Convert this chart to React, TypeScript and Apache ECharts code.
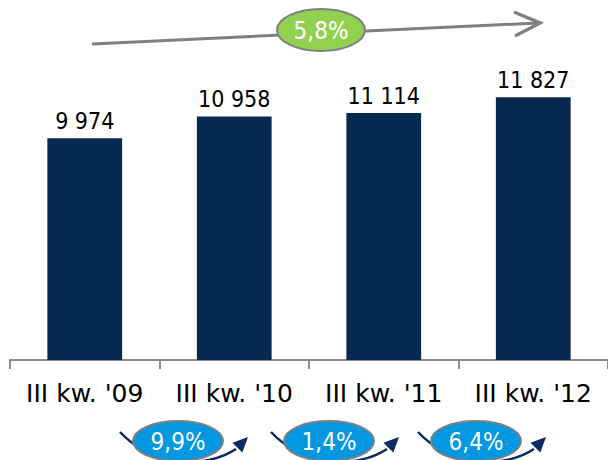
import React, { useEffect, useRef } from "react";
import * as echarts from "echarts";

// Quarterly values (III quarter of each year)
const categories = ["III kw. '09", "III kw. '10", "III kw. '11", "III kw. '12"];
const values = [9974, 10958, 11114, 11827];
// Year-on-year growth between neighbouring quarters
const yoyGrowth = ["9,9%", "1,4%", "6,4%"];
// Average annual growth over the whole period
const cagrLabel = "5,8%";

const BAR_COLOR = "#07284f";
const ARROW_NAVY = "#0a2a62";
const BLUE = "#0398df";
const GREEN = "#92d050";
const GREY = "#808080";

const fmt = (v: number) =>
  String(v).replace(/\B(?=(\d{3})+(?!\d))/g, " ");

const COND = "DejaVu Sans Condensed, DejaVu Sans, sans-serif";

function growthBubble(cx: number, label: string) {
  const cy = 441;
  const sx = cx - 58;
  const tip = [cx + 70, 437];
  const end = [cx + 58, 449];
  const dx = tip[0] - end[0];
  const dy = tip[1] - end[1];
  const len = Math.hypot(dx, dy);
  const ux = dx / len;
  const uy = dy / len;
  const head = 15;
  const bx = tip[0] - ux * head;
  const by = tip[1] - uy * head;
  const px = -uy * 7;
  const py = ux * 7;
  return [
    {
      type: "bezierCurve",
      z: 1,
      shape: {
        x1: sx,
        y1: cy - 9,
        cpx1: cx - 25,
        cpy1: cy + 26,
        cpx2: cx + 28,
        cpy2: cy + 28,
        x2: end[0],
        y2: end[1],
      },
      style: { stroke: ARROW_NAVY, lineWidth: 2.5, fill: null },
    },
    {
      type: "polygon",
      z: 1,
      shape: {
        points: [
          tip,
          [bx + px, by + py],
          [bx - px, by - py],
        ],
      },
      style: { fill: ARROW_NAVY },
    },
    {
      type: "ellipse",
      z: 2,
      shape: { cx, cy, rx: 45, ry: 20 },
      style: { fill: BLUE, stroke: GREY, lineWidth: 2 },
    },
    {
      type: "text",
      z: 3,
      x: cx,
      y: cy + 1,
      style: {
        text: label,
        fill: "#ffffff",
        fontSize: 24,
        fontFamily: COND,
        align: "center",
        verticalAlign: "middle",
      },
    },
  ];
}

export default function App() {
  const ref = useRef<HTMLDivElement>(null);

  useEffect(() => {
    if (!ref.current) return;
    const chart = echarts.init(ref.current, null, { renderer: "svg" });

    const bubbleX = [178, 329, 476];

    chart.setOption({
      animation: false,
      backgroundColor: "#ffffff",
      grid: { left: 10, top: 40, width: 601, height: 320, containLabel: false },
      xAxis: {
        type: "category",
        data: categories,
        boundaryGap: true,
        axisLine: { show: true, lineStyle: { color: "#8c8c8c", width: 2 } },
        axisTick: {
          show: true,
          interval: 0,
          length: 9,
          lineStyle: { color: "#8c8c8c", width: 2 },
        },
        axisLabel: {
          interval: 0,
          hideOverlap: false,
          color: "#000000",
          fontSize: 25,
          fontFamily: "DejaVu Sans, sans-serif",
          margin: 21,
        },
      },
      yAxis: {
        type: "value",
        min: 0,
        max: 14400,
        show: false,
        splitLine: { show: false },
      },
      series: [
        {
          type: "bar",
          data: values,
          barWidth: "50%",
          itemStyle: { color: BAR_COLOR },
          label: {
            show: true,
            position: "top",
            distance: 6,
            color: "#000000",
            fontSize: 23,
            fontFamily: COND,
            formatter: (p: any) => fmt(p.value),
          },
        },
      ],
      graphic: [
        // overall trend arrow
        {
          type: "line",
          z: 1,
          shape: { x1: 92, y1: 44, x2: 538, y2: 23 },
          style: { stroke: GREY, lineWidth: 3 },
        },
        {
          type: "polyline",
          z: 1,
          shape: { points: [[514, 12], [540, 23], [515, 36]] },
          style: { stroke: GREY, lineWidth: 3.5, fill: null },
        },
        {
          type: "ellipse",
          z: 2,
          shape: { cx: 321, cy: 30, rx: 44, ry: 21 },
          style: { fill: GREEN, stroke: GREY, lineWidth: 2 },
        },
        {
          type: "text",
          z: 3,
          x: 321,
          y: 31,
          style: {
            text: cagrLabel,
            fill: "#ffffff",
            fontSize: 24,
            fontFamily: COND,
            align: "center",
            verticalAlign: "middle",
          },
        },
        ...yoyGrowth.flatMap((g, i) => growthBubble(bubbleX[i], g)),
      ],
    });

    return () => chart.dispose();
  }, []);

  return (
    <div
      ref={ref}
      style={{ position: "fixed", left: 0, top: 0, width: 608, height: 460 }}
    />
  );
}
